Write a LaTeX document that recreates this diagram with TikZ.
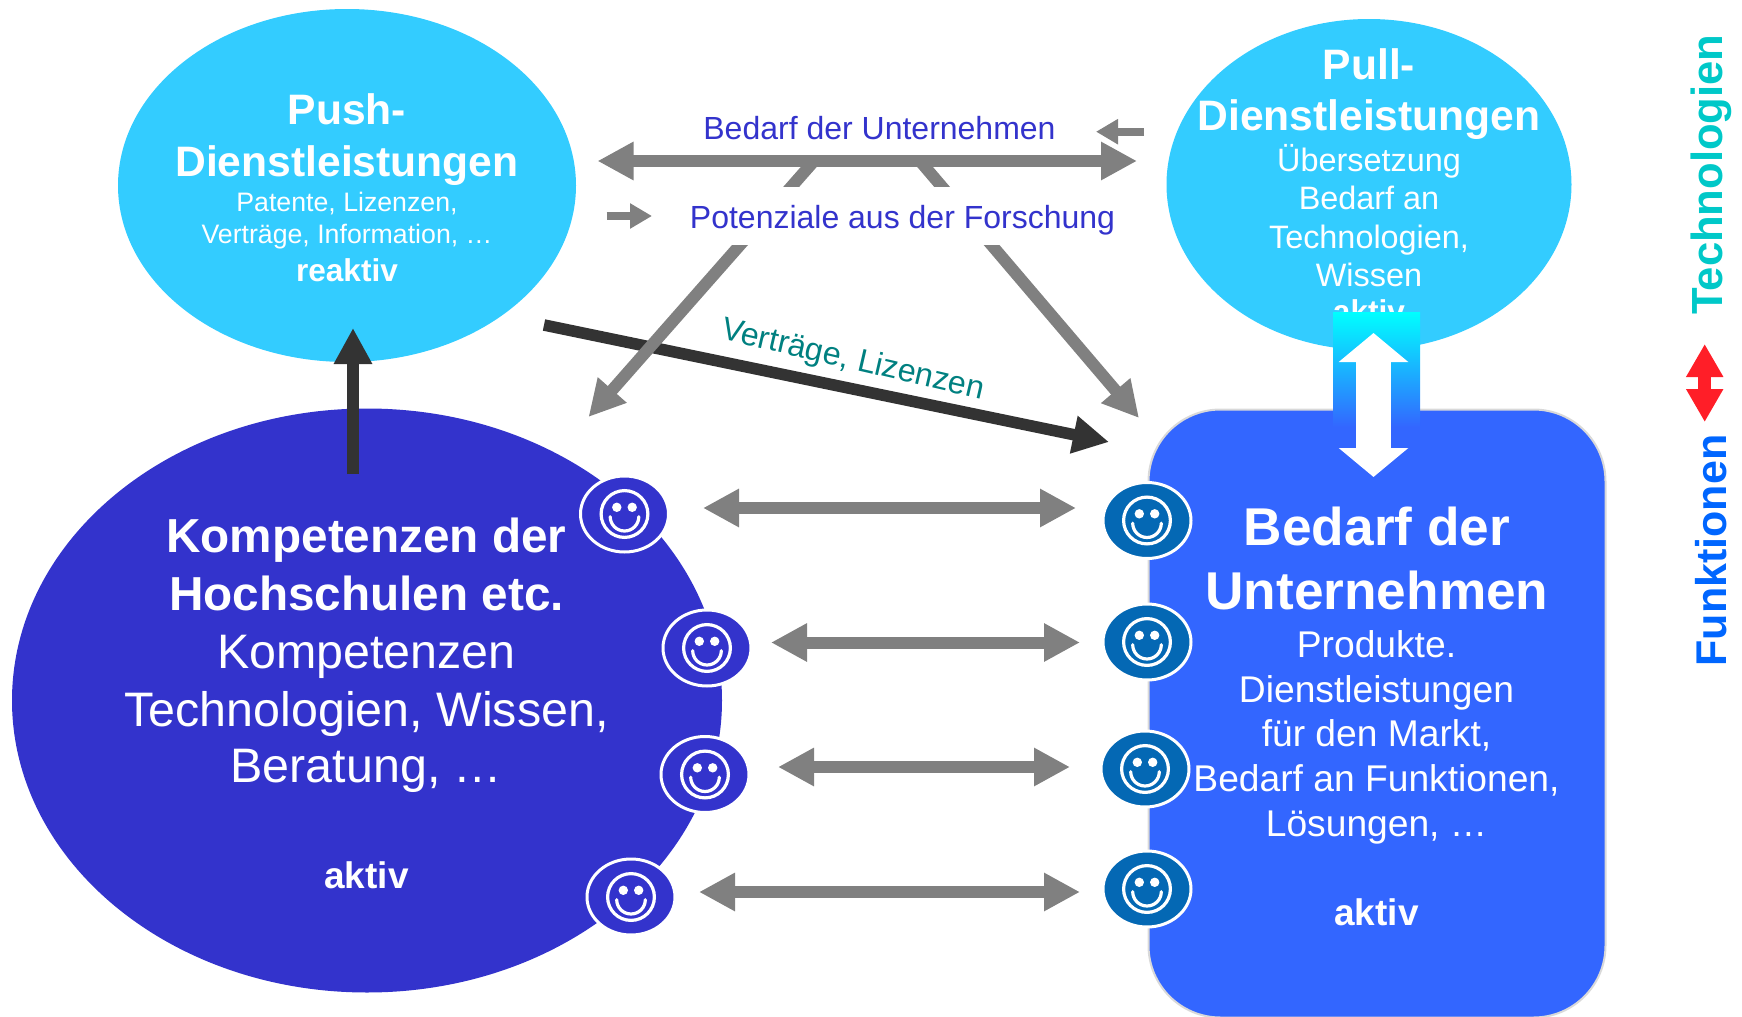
\documentclass[tikz,border=0pt]{standalone}
\usepackage{fontspec}
\setmainfont{Liberation Sans}
\usetikzlibrary{arrows.meta,shapes.geometric}
\definecolor{pushc}{HTML}{33CCFF}
\definecolor{kompc}{HTML}{3333CC}
\definecolor{bedc}{HTML}{3366FF}
\definecolor{smilec}{HTML}{0468B4}
\definecolor{greyc}{HTML}{808080}
\definecolor{darkc}{HTML}{333333}
\definecolor{tealc}{HTML}{008080}
\definecolor{techc}{HTML}{00C8C8}
\definecolor{funkc}{HTML}{0066FF}
\definecolor{redc}{HTML}{FF1E28}
\newcommand{\fsz}[1]{\fontsize{#1}{#1}\selectfont}
\tikzset{
  blob/.style={ellipse,inner sep=0pt,outer sep=0pt},
  line/.style={anchor=base,inner sep=0pt,outer sep=0pt,text=white},
  lab/.style={anchor=base,inner sep=0pt,outer sep=0pt},
  greydouble/.style={line width=6pt,draw=greyc,{Triangle[length=18pt,width=18pt]}-{Triangle[length=18pt,width=18pt]}},
  greysingle/.style={line width=6pt,draw=greyc,-{Triangle[length=18pt,width=18pt]}},
  greysmall/.style={line width=4pt,draw=greyc,-{Triangle[length=11pt,width=12pt]}},
  darkarrow/.style={line width=5.8pt,draw=darkc,-{Triangle[length=18pt,width=18pt]}},
  smileybox/.style={blob,minimum width=44pt,minimum height=38pt,draw=white,line width=1.5pt},
  smiley/.pic={
    \draw[white,line width=1.6pt] (0,0) circle[radius=23.4];
    \fill[white] (-7.7,-6.7) circle[radius=4.7] (7.7,-6.7) circle[radius=4.7];
    \draw[white,line width=1.6pt,line cap=round] (-14.3,2.7) arc[start angle=180,end angle=0,radius=14.3];
  }
}
\begin{document}
\begin{tikzpicture}[x=0.5pt,y=-0.5pt]
\useasboundingbox (0,0) rectangle (1742,1017);

% main shapes
\node[blob,fill=pushc,minimum width=229pt,minimum height=176.5pt] (push) at (347,185.5) {};
\node[blob,fill=pushc,minimum width=202.5pt,minimum height=165.5pt] (pull) at (1369,184.5) {};
\node[blob,fill=kompc,minimum width=355pt,minimum height=292pt] (komp) at (367,700.5) {};
\node[draw=black!15,line width=1pt,fill=bedc,rounded corners=36pt,minimum width=228.5pt,minimum height=304pt,inner sep=0pt,outer sep=0pt] (bed) at (1377,713.5) {};

% push text
\node[line,font=\bfseries\fsz{21.3}] (pushA) at (347,124) {Push-};
\node[line,font=\bfseries\fsz{21.3}] (pushB) at (347,176.5) {Dienstleistungen};
\node[line,font=\fsz{13.35}] (pushC) at (347,211) {Patente, Lizenzen,};
\node[line,font=\fsz{13.35}] (pushD) at (347,243) {Verträge, Information, …};
\node[line,font=\bfseries\fsz{15.8}] (pushE) at (347,281) {reaktiv};

% pull text
\node[line,font=\bfseries\fsz{21.3}] (pullA) at (1369,79) {Pull-};
\node[line,font=\bfseries\fsz{21.3}] (pullB) at (1369,130) {Dienstleistungen};
\node[line,font=\fsz{16.2}] (pullC) at (1369,171) {Übersetzung};
\node[line,font=\fsz{16.2}] (pullD) at (1369,209) {Bedarf an};
\node[line,font=\fsz{16.2}] (pullE) at (1369,248) {Technologien,};
\node[line,font=\fsz{16.2}] (pullF) at (1369,286.5) {Wissen};
\node[line,font=\bfseries\fsz{15.8}] (pullG) at (1369,322) {aktiv};

% kompetenz text
\node[line,font=\bfseries\fsz{23.85}] (kompA) at (366.5,552.5) {Kompetenzen der};
\node[line,font=\bfseries\fsz{23.85}] (kompB) at (366.5,610) {Hochschulen etc.};
\node[line,font=\fsz{24.2}] (kompC) at (366.5,668) {Kompetenzen};
\node[line,font=\fsz{24.2}] (kompD) at (366.5,726) {Technologien, Wissen,};
\node[line,font=\fsz{24.2}] (kompE) at (366.5,782.5) {Beratung, …};
\node[line,font=\bfseries\fsz{18.5}] (kompF) at (366.5,888) {aktiv};

% bedarf text
\node[line,font=\bfseries\fsz{26.6}] (bedA) at (1377,545) {Bedarf der};
\node[line,font=\bfseries\fsz{26.6}] (bedB) at (1377,609) {Unternehmen};
\node[line,font=\fsz{18.6}] (bedC) at (1376.5,657) {Produkte.};
\node[line,font=\fsz{18.6}] (bedD) at (1376.5,702) {Dienstleistungen};
\node[line,font=\fsz{18.6}] (bedE) at (1376.5,746) {für den Markt,};
\node[line,font=\fsz{18.6}] (bedF) at (1376.5,791) {Bedarf an Funktionen,};
\node[line,font=\fsz{18.6}] (bedG) at (1376.5,836) {Lösungen, …};
\node[line,font=\bfseries\fsz{18.5}] (bedH) at (1376.5,925.5) {aktiv};

% gradient link between pull and bedarf
\node[minimum width=43.5pt,minimum height=57.5pt,inner sep=0pt,outer sep=0pt,top color=cyan,bottom color=bedc,middle color=cyan!50!bedc] (grad) at (1376.5,369.5) {};
\coordinate (wu) at (1373.5,333);
\coordinate (wd) at (1373.5,477);
\draw[white,line width=17.5pt,{Triangle[length=14.5pt,width=34pt]}-{Triangle[length=14.5pt,width=34pt]}] (wu) -- (wd);

% arrow coordinates
\coordinate (vs) at (544,325);
\coordinate (ve) at (1109,442);
\coordinate (us) at (353,474);
\coordinate (ue) at (353,328);
\coordinate (dl1) at (814,161);
\coordinate (dl2) at (588.5,417);
\coordinate (dr1) at (920,161);
\coordinate (dr2) at (1139,418);
\coordinate (ml) at (597.5,161);
\coordinate (mr) at (1137,161);
\coordinate (sl1) at (1144,131.7);
\coordinate (sl2) at (1096,131.7);
\coordinate (sr1) at (606.5,216);
\coordinate (sr2) at (652,216);

\draw[darkarrow] (vs) -- (ve);
\draw[darkarrow] (us) -- (ue);
\draw[greysingle] (dl1) -- (dl2);
\draw[greysingle] (dr1) -- (dr2);
\fill[white] (685,187) rectangle (1120,245);
\draw[greydouble] (ml) -- (mr);
\draw[greysmall] (sl1) -- (sl2);
\draw[greysmall] (sr1) -- (sr2);

\node[lab,text=kompc,font=\fsz{16}] (bedtxt) at (879.5,139.5) {Bedarf der Unternehmen};
\node[lab,text=kompc,font=\fsz{16}] (pottxt) at (902.5,228.5) {Potenziale aus der Forschung};
\node[lab,text=tealc,font=\fsz{16.1},rotate=-13] (vertxt) at (851,369) {Verträge, Lizenzen};

% row arrows
\coordinate (a1l) at (703,508);  \coordinate (a1r) at (1076,508);
\coordinate (a2l) at (771,642.5);  \coordinate (a2r) at (1080,642.5);
\coordinate (a3l) at (778,767);  \coordinate (a3r) at (1070,767);
\coordinate (a4l) at (699,892);  \coordinate (a4r) at (1080,892);
\draw[greydouble] (a1l) -- (a1r);
\draw[greydouble] (a2l) -- (a2r);
\draw[greydouble] (a3l) -- (a3r);
\draw[greydouble] (a4l) -- (a4r);

% smileys
\node[smileybox,fill=kompc] (sk1) at (624.5,514) {};
\node[smileybox,fill=kompc] (sk2) at (707,648) {};
\node[smileybox,fill=kompc] (sk3) at (705,774.5) {};
\node[smileybox,fill=kompc] (sk4) at (631,897) {};
\node[smileybox,fill=smilec] (sb1) at (1147,520.5) {};
\node[smileybox,fill=smilec] (sb2) at (1147,642) {};
\node[smileybox,fill=smilec] (sb3) at (1145,769) {};
\node[smileybox,fill=smilec] (sb4) at (1147,889) {};
\path (sk1) pic {smiley};
\path (sk2) pic {smiley};
\path (sk3) pic {smiley};
\path (sk4) pic {smiley};
\path (sb1) pic {smiley};
\path (sb2) pic {smiley};
\path (sb3) pic {smiley};
\path (sb4) pic {smiley};

% side legend
\node[lab,text=techc,font=\bfseries\fsz{21.8},rotate=90] (techtxt) at (1722,174.5) {Technologien};
\node[lab,text=funkc,font=\bfseries\fsz{21.5},rotate=90] (funktxt) at (1726,550.5) {Funktionen};
\coordinate (ru) at (1704.7,344);
\coordinate (rd) at (1704.7,422);
\draw[redc,line width=6.5pt,{Triangle[length=16.5pt,width=17.5pt]}-{Triangle[length=16.5pt,width=17.5pt]}] (ru) -- (rd);
\end{tikzpicture}
\end{document}
